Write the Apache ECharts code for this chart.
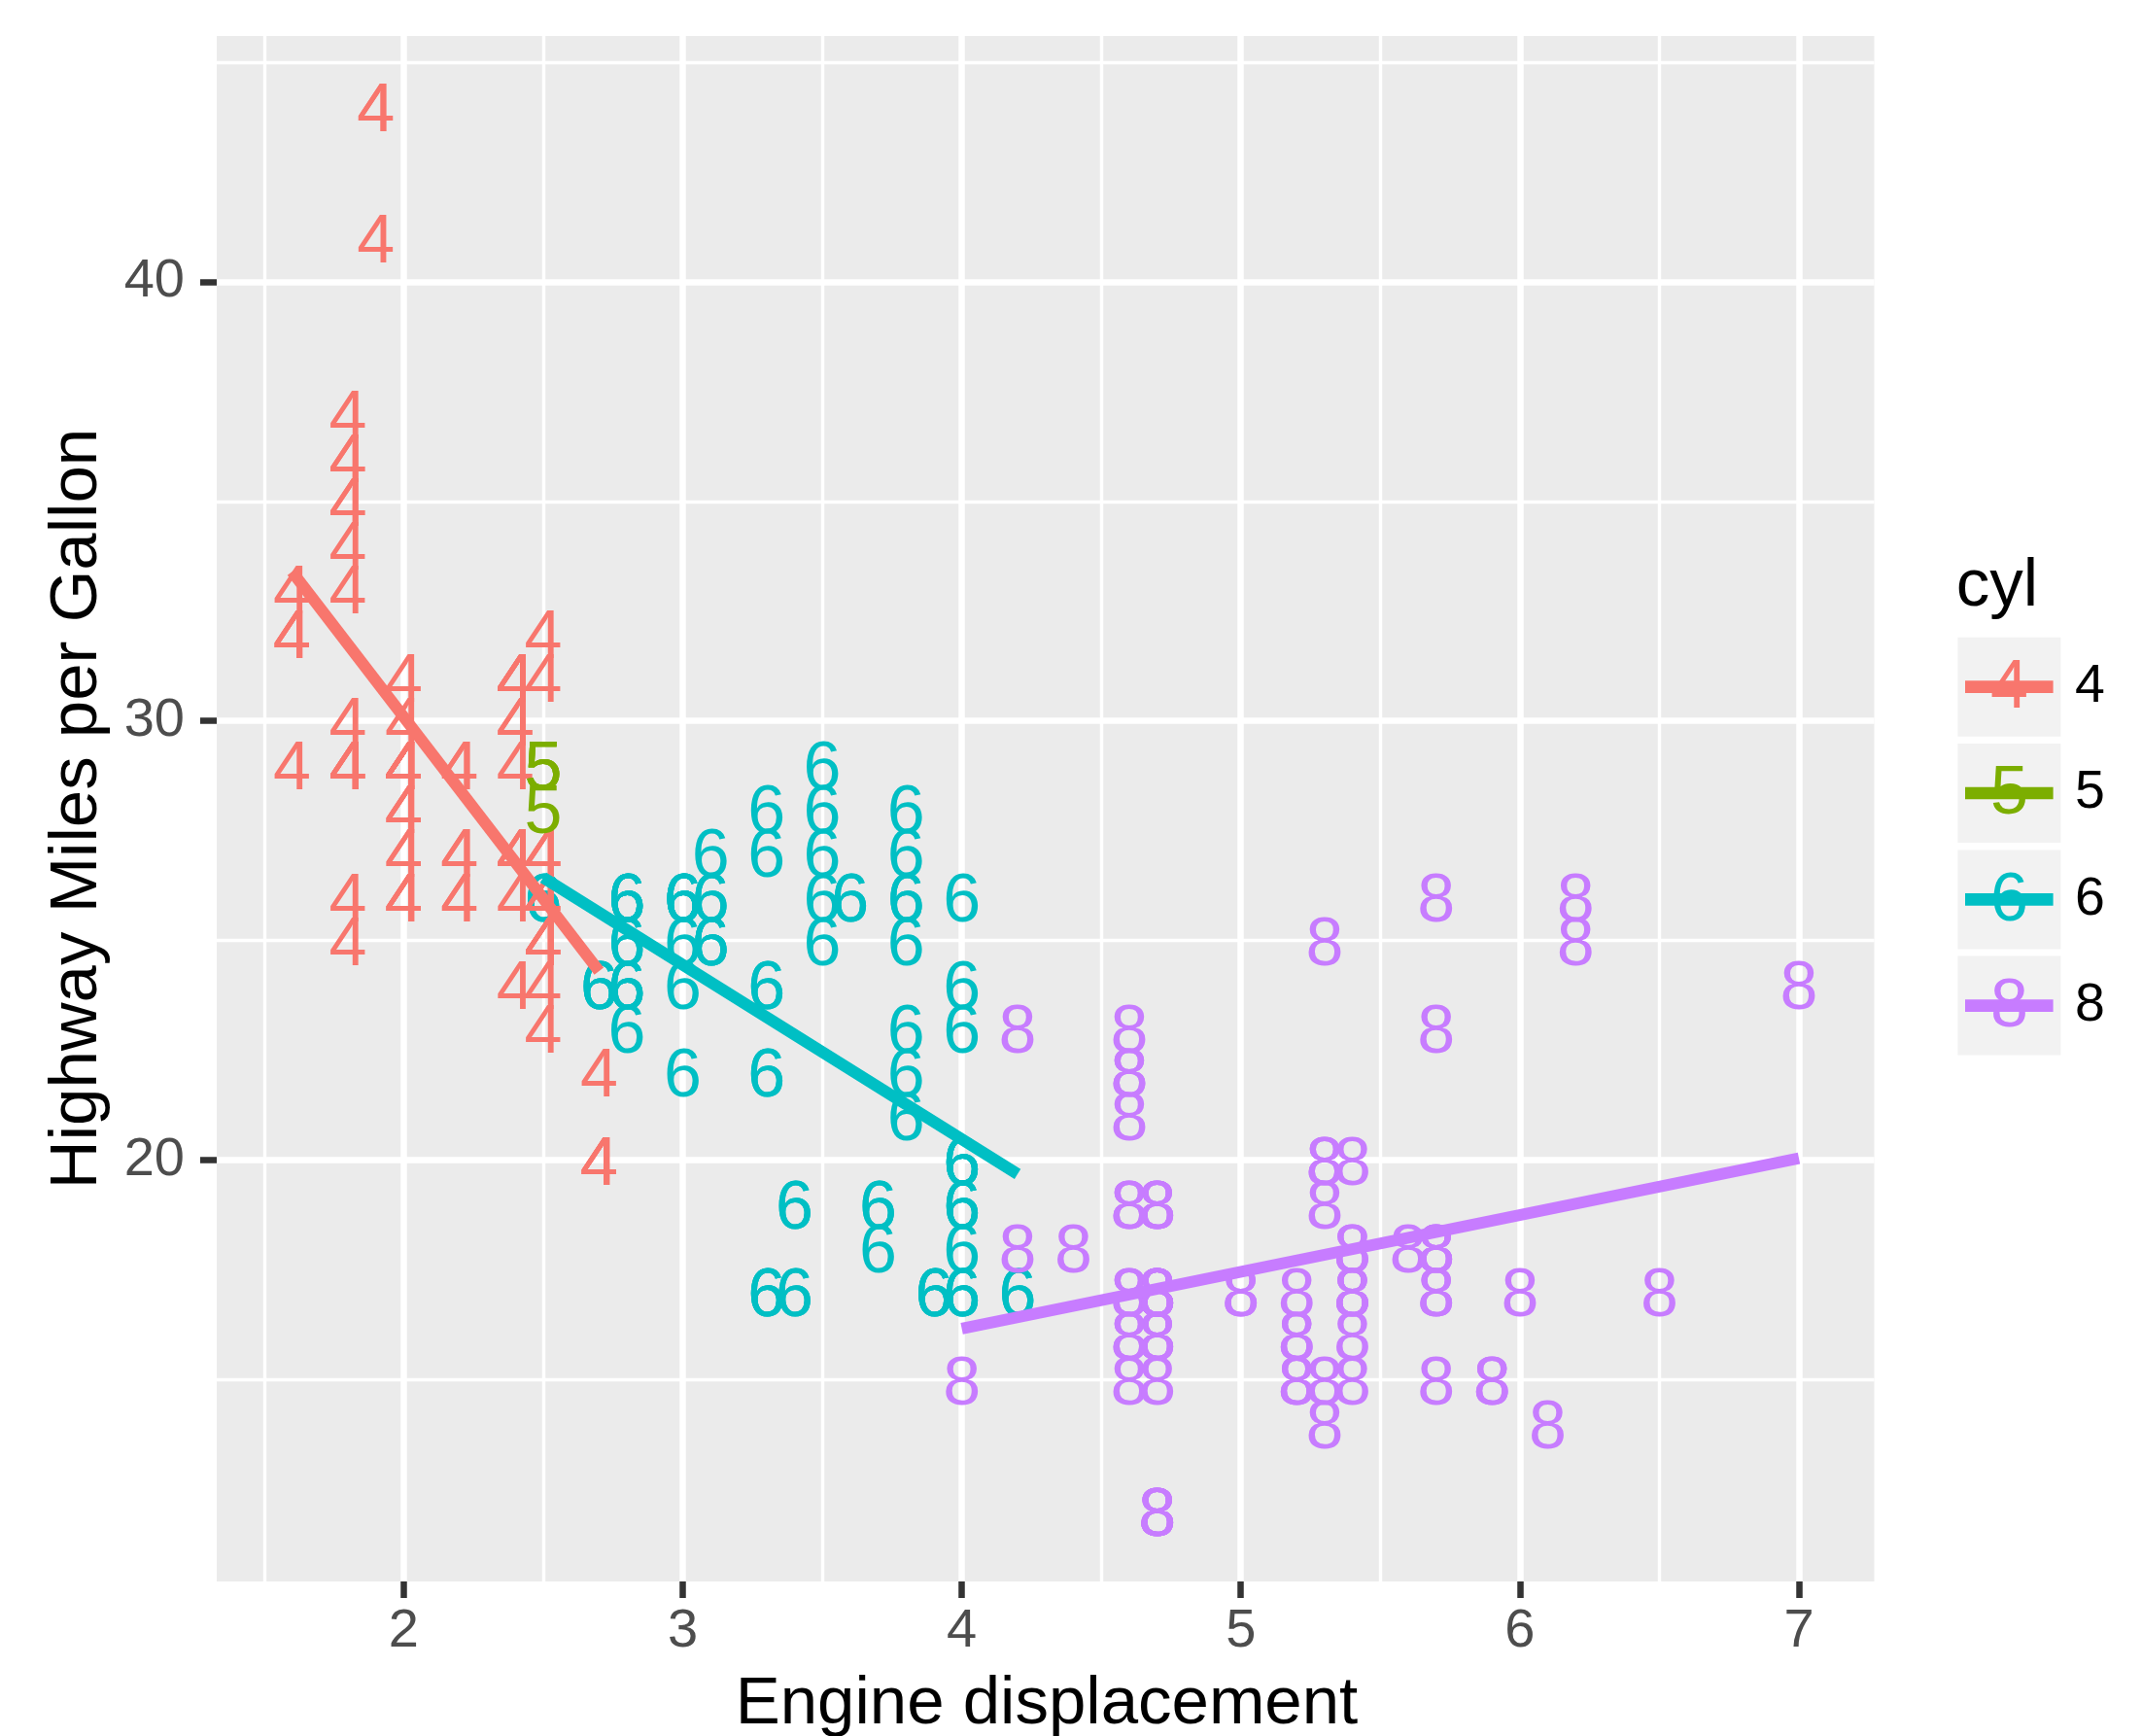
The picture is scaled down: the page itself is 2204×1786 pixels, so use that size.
<!DOCTYPE html>
<html><head><meta charset="utf-8">
<script src="https://cdn.jsdelivr.net/npm/echarts@6/dist/echarts.min.js"></script>
<style>html,body{margin:0;padding:0;background:#fff}#c{width:2204px;height:1786px}</style>
</head><body><div id="c"></div>
<script>
// ---- data (mpg: displ vs hwy, labelled by cyl) ----
const cylLevels = ['4', '5', '6', '8'];
const cylColors = ['#F8766D', '#7CAE00', '#00BFC4', '#C77CFF'];

const displ4 = [1.8,1.8,2.0,2.0,1.8,1.8,2.0,2.0, 2.4,2.4, 2.4, 1.6,1.6,1.6,1.6,1.6,1.8,1.8,1.8,2.0, 2.4,2.4,2.4,2.4, 2.0,2.0,2.0,2.0, 2.4,2.4,2.5,2.5, 2.5,2.5,2.5,2.5,2.5,2.5, 2.2,2.2,2.5,2.5,2.5,2.5,2.5,2.5, 2.7,2.7, 2.2,2.2,2.4,2.4, 2.2,2.2,2.4,2.4, 1.8,1.8,1.8,1.8,1.8, 2.7,2.7,2.7, 2.0,2.0,2.0,2.0, 1.9,2.0,2.0,2.0,2.0, 1.9,1.9,2.0,2.0, 1.8,1.8,2.0,2.0];
const hwy4   = [29,29,31,30,26,25,28,27, 27,30, 24, 33,32,32,29,32,34,36,36,29, 26,27,30,31, 26,29,28,27, 29,27,31,32, 25,24,27,25,26,23, 26,26,26,26,25,27,25,27, 20,20, 29,27,31,31, 27,29,31,31, 30,33,35,37,35, 20,20,22, 29,26,29,29, 44,29,26,29,29, 44,41,29,26, 29,29,28,29];

const displ5 = [2.5, 2.5, 2.5, 2.5];
const hwy5   = [29, 29, 28, 29];

const displ6 = [2.8,2.8,3.1,2.8,2.8,3.1,3.1,2.8,3.1, 3.1,3.5,3.6, 3.0,3.3,3.3,3.3,3.3,3.3,3.8,3.8,3.8,4.0, 3.7,3.7,3.9,3.9, 3.9, 4.0,4.0,4.0,4.0, 4.2,4.2, 3.8,3.8,4.0,4.0, 2.5,2.5,3.3, 2.7,2.7,2.7, 3.0,3.7,4.0, 4.0,4.0, 3.5,3.5, 3.0,3.0,3.5, 3.3,3.3,4.0, 3.1,3.8,3.8,3.8, 3.4,3.4,4.0, 3.0,3.0,3.5, 3.0,3.0,3.3, 3.4,3.4,4.0,4.0, 2.8, 2.8,2.8, 2.8,2.8,3.6];
const hwy6   = [26,26,27,25,25,25,25,24,25, 26,29,26, 24,22,22,24,24,17,22,21,23,23, 19,18,17,17, 17, 17,19,17,19, 17,17, 26,25,26,24, 26,26,28, 24,24,24, 22,19,20, 17,19, 27,26, 26,25,25, 17,17,20, 26,26,27,28, 19,17,20, 26,26,28, 26,26,27, 17,19,18,20, 24, 23,24, 26,26,26];

const displ8 = [4.2, 5.3,5.3,5.3,5.7,6.0, 5.7,5.7,6.2,6.2,7.0, 5.3,5.3,5.7,6.5, 4.7,4.7,4.7,5.2,5.2, 4.7,4.7,4.7,5.2,5.7,5.9, 4.7,4.7,4.7,4.7,4.7,4.7,5.2,5.2,5.7,5.9, 4.6,5.4,5.4, 4.6,5.0, 4.6,4.6,4.6,5.4,5.4, 4.6,4.6,4.6,4.6,5.4, 4.7,4.7,4.7,5.7,6.1, 4.0,4.2,4.4,4.6, 5.4,5.4,5.4, 4.6,5.0, 5.6, 5.3, 4.7, 4.7,5.7];
const hwy8   = [23, 20,15,20,17,17, 26,23,26,25,24, 19,14,15,17, 19,19,12,15,17, 17,12,17,16,18,15, 16,12,17,17,16,16,15,16,17,15, 17,17,18, 19,17, 16,16,17,15,17, 21,22,23,22,20, 17,12,19,18,14, 15,18,18,15, 17,16,18, 19,17, 18, 25, 17, 15,18];

// linear fit lines (start / end)
const fitX4 = [1.6, 2.7];  const fitY4 = [33.4, 24.3];
const fitX6 = [2.5, 4.2];  const fitY6 = [26.43, 19.68];
const fitX8 = [4.0, 7.0];  const fitY8 = [16.16, 20.04];

const xTicks = [2, 3, 4, 5, 6, 7];
const xMinor = [1.5, 2.5, 3.5, 4.5, 5.5, 6.5];
const yTicks = [20, 30, 40];
const yMinor = [15, 25, 35, 45];
const xRange = [1.33, 7.27];
const yRange = [10.4, 45.6];

const FONT = '"Liberation Sans", Arial, Helvetica, sans-serif';

function pts(xs, ys) { return xs.map((x, i) => [x, ys[i]]); }

function textSeries(idx, xs, ys, z) {
  return {
    type: 'scatter', name: cylLevels[idx], data: pts(xs, ys),
    symbolSize: 1, itemStyle: { color: 'rgba(0,0,0,0)', opacity: 1 },
    label: { show: true, position: 'inside', formatter: cylLevels[idx], fontSize: 70,
             color: cylColors[idx], fontFamily: FONT, opacity: 1, offset: [0, 6] },
    silent: true, z: z, emphasis: { disabled: true }
  };
}
function fitSeries(idx, xs, ys) {
  return {
    type: 'line', data: pts(xs, ys), showSymbol: false, symbol: 'none',
    lineStyle: { width: 12, color: cylColors[idx], cap: 'butt', opacity: 1 },
    silent: true, z: 10, emphasis: { disabled: true }
  };
}

const chart = echarts.init(document.getElementById('c'), null, { renderer: 'canvas' });

// legend graphics
const legendEls = [];
legendEls.push({ type: 'text', x: 2012.7, y: 604, style: { text: 'cyl', fontSize: 69, fontFamily: FONT, fill: '#000', align: 'left', verticalAlign: 'middle' } });
const keyTops = [655.7, 765, 874.4, 983.6];
const keyW = 106, keyH = 102, keyX = 2014.4;
cylLevels.forEach((lv, i) => {
  const t = keyTops[i], cy = t + keyH / 2;
  legendEls.push({ type: 'rect', shape: { x: keyX, y: t, width: keyW, height: keyH }, style: { fill: '#F2F2F2' } });
  legendEls.push({ type: 'text', x: keyX + keyW / 2, y: cy + 2, style: { text: lv, fontSize: 70, fontFamily: FONT, fill: cylColors[i], align: 'center', verticalAlign: 'middle' } });
  legendEls.push({ type: 'line', shape: { x1: 2022, y1: cy, x2: 2112.6, y2: cy }, style: { stroke: cylColors[i], lineWidth: 12.7 } });
  legendEls.push({ type: 'text', x: 2135, y: cy, style: { text: lv, fontSize: 55.5, fontFamily: FONT, fill: '#000', align: 'left', verticalAlign: 'middle' } });
});

const option = {
  animation: false,
  backgroundColor: '#FFFFFF',
  grid: { left: 223, right: 275.5, top: 37, bottom: 159, show: true, backgroundColor: '#EBEBEB', borderWidth: 0, outerBoundsMode: 'none', containLabel: false },
  xAxis: [
    { type: 'value', min: xRange[0], max: xRange[1], position: 'bottom',
      axisLine: { show: false },
      axisTick: { show: true, customValues: xTicks, length: 17, lineStyle: { color: '#333333', width: 6.5 } },
      axisLabel: { show: true, customValues: xTicks, fontSize: 56, color: '#4D4D4D', fontFamily: FONT, margin: 24 },
      splitLine: { show: true, lineStyle: { color: '#FFFFFF', width: 6.5 } } },
    { type: 'value', min: xRange[0], max: xRange[1], position: 'bottom',
      axisLine: { show: false },
      axisTick: { show: false, customValues: xMinor },
      axisLabel: { show: false, customValues: xMinor },
      splitLine: { show: true, lineStyle: { color: '#FFFFFF', width: 3.4 } } }
  ],
  yAxis: [
    { type: 'value', min: yRange[0], max: yRange[1], position: 'left',
      axisLine: { show: false },
      axisTick: { show: true, customValues: yTicks, length: 17, lineStyle: { color: '#333333', width: 6.5 } },
      axisLabel: { show: true, customValues: yTicks, fontSize: 56, color: '#4D4D4D', fontFamily: FONT, margin: 33 },
      splitLine: { show: true, lineStyle: { color: '#FFFFFF', width: 6.5 } } },
    { type: 'value', min: yRange[0], max: yRange[1], position: 'left',
      axisLine: { show: false },
      axisTick: { show: false, customValues: yMinor },
      axisLabel: { show: false, customValues: yMinor },
      splitLine: { show: true, lineStyle: { color: '#FFFFFF', width: 3.4 } } }
  ],
  series: [
    textSeries(2, displ6, hwy6, 2),
    textSeries(0, displ4, hwy4, 3),
    textSeries(1, displ5, hwy5, 4),
    textSeries(3, displ8, hwy8, 5),
    fitSeries(0, fitX4, fitY4),
    fitSeries(2, fitX6, fitY6),
    fitSeries(3, fitX8, fitY8)
  ],
  graphic: [
    { type: 'text', x: 1077, y: 1754, style: { text: 'Engine displacement', fontSize: 69, fontFamily: FONT, fill: '#000', align: 'center', verticalAlign: 'middle' } },
    { type: 'text', x: 80, y: 832, rotation: Math.PI / 2, style: { text: 'Highway Miles per Gallon', fontSize: 69, fontFamily: FONT, fill: '#000', align: 'center', verticalAlign: 'middle' } }
  ].concat(legendEls)
};
chart.setOption(option);
</script>
</body></html>
